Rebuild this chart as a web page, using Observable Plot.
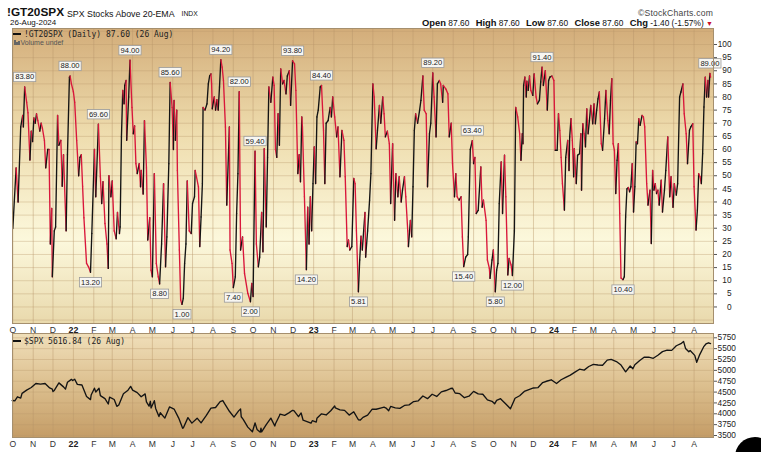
<!DOCTYPE html>
<html><head><meta charset="utf-8">
<script src="https://cdn.jsdelivr.net/npm/d3@7"></script>
<script src="https://cdn.jsdelivr.net/npm/@observablehq/plot@0.6"></script>
<style>
body{margin:0;background:#fff;width:761px;height:452px;overflow:hidden;position:relative;font-family:"Liberation Sans",Arial,sans-serif;color:#111}
.a{position:absolute;white-space:nowrap;line-height:1}
.mono{font-family:"DejaVu Sans Mono",monospace}
#top,#bot{position:absolute;left:0}
#top{top:28px}#bot{top:333px}
.ohlc b{font-size:9.4px;margin-left:4px}
</style></head><body>
<div class="a" style="left:7px;top:7.3px;font-size:11.8px;font-weight:bold">!GT20SPX</div>
<div class="a" style="left:67px;top:9.8px;font-size:8.8px">SPX Stocks Above 20-EMA</div>
<div class="a" style="left:181.5px;top:11.3px;font-size:6.8px">INDX</div>
<div class="a" style="left:10px;top:19.3px;font-size:8px">26-Aug-2024</div>
<div class="a" style="right:48px;top:8.8px;font-size:8.6px;color:#444;letter-spacing:0.2px">©StockCharts.com</div>
<div class="a ohlc" style="right:48px;top:18.4px;font-size:8.4px"><b>Open</b> 87.60 <b>High</b> 87.60 <b>Low</b> 87.60 <b>Close</b> 87.60 <b>Chg</b> -1.40 (-1.57%) <span style="color:#c8102e;font-size:7px">▼</span></div>
<div id="top"></div>
<div id="bot"></div>
<div class="a mono" style="left:13px;top:31.3px;font-size:8px;color:#222;z-index:2"><span style="display:inline-block;width:8px;height:2px;background:#111;vertical-align:2px;margin-right:3px"></span>!GT20SPX (Daily) 87.60 (26 Aug)</div>
<div class="a" style="left:14px;top:39.2px;font-size:7px;color:#555;z-index:2"><span style="display:inline-block;width:1.5px;height:5px;background:#666;margin-right:0.5px"></span><span style="display:inline-block;width:1.5px;height:3px;background:#666;margin-right:0.5px"></span><span style="display:inline-block;width:1.5px;height:4px;background:#666;margin-right:1px"></span>Volume undef</div>
<div class="a mono" style="left:13px;top:337.8px;font-size:8px;color:#222;z-index:2"><span style="display:inline-block;width:8px;height:2px;background:#111;vertical-align:2px;margin-right:3px"></span>$SPX 5616.84 (26 Aug)</div>
<div style="position:absolute;left:735px;top:437px;width:40px;height:40px;border-radius:50%;background:#000"></div>
<script>
// ---------- DATA ----------
// !GT20SPX: day offsets from 2021-10-01 and values
const gtDays = [0,5,8,12,15,16,18,21,23,26,28,30,32,34,36,38,41,43,45,48,50,53,55,57,59,60,63,65,68,70,73,75,77,81,83,86,87,89,92,94,97,100,102,104,106,108,112,115,118,120,124,126,130,133,135,137,140,143,145,146,149,151,154,157,159,162,163,165,167,169,170,172,173,176,178,181,183,185,187,189,192,194,195,198,200,203,205,208,210,212,215,218,221,223,226,229,232,234,237,239,242,244,245,247,249,250,253,255,257,259,261,263,265,268,271,273,276,277,279,282,284,286,288,289,292,295,297,299,301,302,303,306,308,310,312,314,316,318,320,323,325,329,330,333,335,338,340,342,344,346,349,352,357,361,363,365,368,370,373,375,378,380,382,385,387,389,392,395,397,399,401,403,405,407,410,412,415,417,420,422,425,428,430,433,435,437,439,440,443,446,448,450,452,454,456,458,460,462,464,467,469,472,474,476,479,482,484,486,489,492,494,497,500,503,505,508,510,512,515,518,520,522,525,527,529,531,533,535,536,539,542,544,547,549,552,554,557,559,562,564,566,569,572,574,577,580,582,585,587,590,592,595,597,600,601,604,606,608,610,612,615,618,620,623,625,628,630,633,635,638,640,643,645,648,650,653,654,658,661,663,666,668,671,673,675,678,681,683,685,688,691,692,695,698,700,702,704,707,711,713,715,719,721,724,725,728,730,733,735,737,739,742,744,747,749,752,754,757,759,762,764,767,770,772,774,775,776,778,780,781,783,785,787,790,792,795,797,800,802,804,806,809,812,814,816,819,822,824,827,829,831,833,835,838,840,843,845,846,848,850,852,853,856,858,861,863,864,866,868,870,872,874,876,878,881,883,885,887,889,891,894,896,899,901,904,906,908,910,912,914,916,918,920,922,924,927,929,931,933,935,937,939,941,943,945,947,949,951,953,956,958,960,963,965,968,970,972,974,976,978,980,982,985,987,990,992,995,998,1000,1003,1005,1008,1010,1013,1015,1018,1020,1023,1025,1028,1030,1033,1035,1038,1040,1042,1044,1046,1048,1050,1052,1054,1056,1057,1059,1060];
const gtValues = [29.9,53,40,68.6,73,68.6,83.8,78,74,56,67,63,72,70,73.6,71,67,70,68,63.5,53,60,60,24,37.5,11.5,29,30.5,73,61.6,63.5,46,58,29,58,87.6,88,85,82,78,63.5,50,57,58,46,34,16.6,15.3,13.2,28,60,42,69.6,49.6,39.4,47.7,31.8,24,14.7,50,42,48,29,26,36,28,30.5,64.8,82.5,77.4,84.4,86.3,63.5,80,94,76,66,69,54.6,50.8,54.6,45.8,52,43,71,53,25.5,34,14,11.5,50.8,16.6,11.5,8.8,24,47,15.3,26.7,54.6,85.6,76,60,78.7,63.5,75,52,21.7,2.7,1.0,3.3,16.6,24,48,29,28,39.4,42,52,49.6,45.8,23,34.3,47,76,75,77.4,85,88,88.8,85,75.5,80,75,79,75,83.8,94.2,91.4,86.3,68.6,38.8,68.6,21.7,16.6,7.4,11.5,35.6,50.8,82,21.7,26.7,12.8,5.2,2.0,9,4,59.4,24,15.3,19,36,21,60.3,30.5,57,83.8,78,87.6,84.4,60,57,73.6,61.6,90.7,85,86.3,81.2,88,90,76.8,93.8,92.6,82.5,50.8,58,47.7,72.4,68.6,42,14.2,38,24,42,29,47,61,47,72.4,75,83.8,84.4,67.3,47,70,71,76,72.4,80,72.4,64.8,68.6,49.6,67.3,63.5,49.6,23,25.5,21.7,23,49,47,29,5.81,17.9,27,21.7,29,36,19,29,40.7,50.8,85,80,60.3,67.3,76.8,70,80,73.6,64.8,67,62.2,39.4,62.2,33,50.8,42,49.6,40,44.5,49.6,42,29,23,33,26.7,45.8,67.3,73.6,70,75,78.7,88,75,73.6,45.8,66,70,89.2,80,64.8,85,86.3,85,78,84.4,83,81.2,64.8,70,54.6,42,50.8,42,40.7,42,26.7,15.4,19,20,26.7,60,63.4,54.6,57,35.6,36.8,53.4,38,40.7,33,17.9,14.7,10.9,17.9,21.7,5.8,14,16.6,39.4,55.3,35.6,57.8,42,12.2,18.5,16,12.0,29,76,72.4,66,55.9,66,62.2,84.4,87.6,80,86,82.5,88,82.5,80.6,88.8,80,77.4,78.7,85.7,91.4,84.4,90,75,86.3,87.6,88,86.3,59.7,59.7,73.6,67.3,57,47,36.9,57,63.5,52,64.8,71.7,63.5,49.6,60.3,47,57.8,58.4,66,44.5,69.8,66,61,75.5,66,71,76.8,69.8,77.4,69.8,75,79.3,81.9,62.2,59.7,71.7,82.5,71,66,78.7,87,62.2,59.7,43.2,55.9,62.2,35.6,11,10.4,11.5,34.3,45,45.5,43.9,45.8,54.6,36.2,45.8,62.9,62.2,71.7,69.2,73,72.4,68.6,47,38.8,44.5,24.2,52,44.5,47,43.2,44.5,38.8,48.3,36.2,44.5,52,64.8,42,49.6,38,47,42.6,47,80,81.9,85,73.6,66,54.6,67.3,68.6,69.8,45.8,29.3,36.9,50.8,49.6,47,58.4,76.2,87.6,80,86.3,80,89.0,87.6];
// labelled extremes (day offsets)
const peakDays = [18,87,130,178,239,316,344,368,425,469,638,698,804,1059];
const troughDays = [118,223,257,335,361,446,525,685,733,759,927];

// $SPX closes
const spxDates = [
"2021-09-30","2021-10-04","2021-10-08","2021-10-13","2021-10-15","2021-10-22","2021-10-29",
"2021-11-05","2021-11-12","2021-11-19","2021-11-26","2021-11-30",
"2021-12-01","2021-12-03","2021-12-10","2021-12-17","2021-12-20","2021-12-23","2021-12-29","2021-12-31",
"2022-01-03","2022-01-07","2022-01-14","2022-01-21","2022-01-27","2022-01-28",
"2022-02-02","2022-02-04","2022-02-09","2022-02-11","2022-02-18","2022-02-23","2022-02-25",
"2022-03-04","2022-03-08","2022-03-11","2022-03-18","2022-03-25","2022-03-29",
"2022-04-01","2022-04-08","2022-04-14","2022-04-20","2022-04-22","2022-04-26","2022-04-28","2022-04-29",
"2022-05-04","2022-05-06","2022-05-11","2022-05-13","2022-05-20","2022-05-27",
"2022-06-03","2022-06-10","2022-06-16","2022-06-17","2022-06-24","2022-06-30",
"2022-07-08","2022-07-14","2022-07-22","2022-07-29",
"2022-08-05","2022-08-12","2022-08-16","2022-08-19","2022-08-26",
"2022-09-02","2022-09-09","2022-09-12","2022-09-13","2022-09-16","2022-09-23","2022-09-30",
"2022-10-04","2022-10-07","2022-10-12","2022-10-13","2022-10-14","2022-10-21","2022-10-28",
"2022-11-03","2022-11-04","2022-11-10","2022-11-11","2022-11-18","2022-11-25","2022-11-30",
"2022-12-02","2022-12-09","2022-12-13","2022-12-16","2022-12-22","2022-12-28","2022-12-30",
"2023-01-05","2023-01-06","2023-01-13","2023-01-20","2023-01-27",
"2023-02-02","2023-02-03","2023-02-10","2023-02-17","2023-02-24",
"2023-03-03","2023-03-10","2023-03-13","2023-03-17","2023-03-24","2023-03-31",
"2023-04-06","2023-04-14","2023-04-18","2023-04-21","2023-04-25","2023-04-28",
"2023-05-05","2023-05-12","2023-05-19","2023-05-26",
"2023-06-02","2023-06-09","2023-06-16","2023-06-23","2023-06-30",
"2023-07-07","2023-07-14","2023-07-21","2023-07-28","2023-07-31",
"2023-08-04","2023-08-11","2023-08-18","2023-08-25",
"2023-09-01","2023-09-08","2023-09-15","2023-09-22","2023-09-29",
"2023-10-03","2023-10-06","2023-10-12","2023-10-13","2023-10-20","2023-10-27",
"2023-11-03","2023-11-10","2023-11-17","2023-11-24",
"2023-12-01","2023-12-08","2023-12-15","2023-12-22","2023-12-28",
"2024-01-05","2024-01-12","2024-01-19","2024-01-26",
"2024-02-02","2024-02-09","2024-02-16","2024-02-23",
"2024-03-01","2024-03-08","2024-03-15","2024-03-22","2024-03-28",
"2024-04-05","2024-04-12","2024-04-19","2024-04-26","2024-04-30",
"2024-05-03","2024-05-10","2024-05-17","2024-05-24","2024-05-31",
"2024-06-07","2024-06-14","2024-06-21","2024-06-28",
"2024-07-05","2024-07-12","2024-07-16","2024-07-19","2024-07-24","2024-07-26",
"2024-08-02","2024-08-05","2024-08-09","2024-08-16","2024-08-19","2024-08-23","2024-08-26"];
const spxValues = [
4307,4300,4391,4363,4471,4545,4605,
4697,4682,4698,4595,4567,
4513,4538,4712,4620,4568,4725,4793,4766,
4796,4677,4663,4398,4326,4432,
4589,4501,4587,4419,4349,4225,4385,
4329,4171,4204,4463,4543,4632,
4546,4488,4393,4459,4272,4175,4288,4132,
4301,4123,3935,4024,3901,4158,
4109,3901,3667,3675,3912,3785,
3899,3790,3962,4130,
4145,4280,4305,4228,4058,
3924,4067,4110,3932,3873,3693,3586,
3791,3640,3577,3670,3583,3752,3901,
3720,3771,3956,3993,3965,4026,4080,
4072,3934,4019,3852,3822,3783,3840,
3808,3895,3999,3973,4071,
4179,4136,4090,4079,3970,
4046,3862,3855,3917,3971,4109,
4105,4138,4154,4133,4071,4169,
4136,4124,4192,4205,
4282,4299,4410,4348,4450,
4399,4505,4536,4582,4589,
4478,4464,4370,4406,
4516,4457,4450,4320,4288,
4229,4308,4349,4327,4224,4117,
4358,4415,4514,4559,
4595,4604,4719,4755,4783,
4697,4784,4840,4891,
4959,5027,5006,5089,
5137,5124,5117,5235,5254,
5204,5123,4967,5100,5036,
5128,5223,5303,5305,5278,
5347,5432,5465,5460,
5567,5615,5667,5505,5427,5459,
5346,5186,5344,5554,5608,5635,5617];

const monthLetters = ["J","F","M","A","M","J","J","A","S","O","N","D"];
const yearLabels = {2022:"22",2023:"23",2024:"24"};
const gtTicks = [0,5,10,15,20,25,30,35,40,45,50,55,60,65,70,75,80,85,90,95,100];
const spxTicks = [3500,3750,4000,4250,4500,4750,5000,5250,5500,5750];

// ---------- BUILD ----------
const parse = d3.timeParse("%Y-%m-%d");
const gtStart = new Date(2021, 9, 1);
const gt = gtDays.map((d, i) => ({date: d3.timeDay.offset(gtStart, d), value: gtValues[i]}));
const byDay = new Map(gtDays.map((d, i) => [d, gt[i]]));
const segs = d3.pairs(gt).map(([a, b]) => ({a, b, c: b.value >= a.value ? "#141414" : "#d9173b"}));
const peaks = peakDays.map(d => byDay.get(d));
const troughs = troughDays.map(d => byDay.get(d));
const spx = spxDates.map((d, i) => ({date: parse(d), value: spxValues[i]}));

const xDomain = [new Date(2021, 8, 30, 12), new Date(2024, 7, 30, 12)];
const months = d3.timeMonth.range(new Date(2021, 9, 1), xDomain[1]);
const monthsNoJan = months.filter(m => m.getMonth() !== 0);
const jans = months.filter(m => m.getMonth() === 0);
const gridCol = "#b8966a";
const PEAK_FILL = "#212121", TROUGH_FILL = "#222223";

function gradientDefs(id, stops) {
  return () => {
    const defs = d3.create("svg:defs");
    const lg = defs.append("linearGradient").attr("id", id)
      .attr("x1", 0).attr("y1", 0).attr("x2", 0).attr("y2", 1);
    stops.forEach(([o, c]) => lg.append("stop").attr("offset", o).attr("stop-color", c));
    return defs.node();
  };
}

function monthLabelMarks(dy) {
  return [
    Plot.text(monthsNoJan, {x: d => d, text: d => monthLetters[d.getMonth()], frameAnchor: "bottom", dy, fontSize: 8.6, fill: "#333", lineAnchor: "middle"}),
    Plot.text(jans, {x: d => d, text: d => yearLabels[d.getFullYear()], frameAnchor: "bottom", dy, fontSize: 8.8, fontWeight: "bold", fill: "#222", lineAnchor: "middle"})
  ];
}

const common = {width: 761, marginLeft: 12, marginRight: 48, marginTop: 0,
  style: {background: "transparent", fontFamily: "Liberation Sans, Arial, sans-serif", overflow: "visible"},
  color: {type: "identity"}};

const topChart = Plot.plot({
  ...common,
  height: 305, marginBottom: 10,
  x: {type: "time", domain: xDomain, axis: null},
  y: {domain: [-6.3, 106.1], axis: null},
  marks: [
    gradientDefs("gUp", [[0, "#d3ad7a"], [0.35, "#eedcad"], [0.72, "#fcf8dc"], [1, "#e9d9ac"]]),
    Plot.frame({fill: "url(#gUp)"}),
    Plot.ruleY(d3.range(-5, 106, 5), {stroke: gridCol, strokeOpacity: 0.45, strokeWidth: 0.8}),
    Plot.ruleX(months, {stroke: gridCol, strokeOpacity: 0.55, strokeWidth: 0.8}),
    Plot.link(segs, {x1: d => d.a.date, y1: d => d.a.value, x2: d => d.b.date, y2: d => d.b.value,
      stroke: d => d.c, strokeWidth: 1.35, strokeLinecap: "round"}),
    Plot.text(peaks, {x: "date", y: "value", text: d => d.value.toFixed(2), dy: -10, fontSize: 7.6, fill: PEAK_FILL}),
    Plot.text(troughs, {x: "date", y: "value", text: d => d.value.toFixed(2), dy: 10, fontSize: 7.6, fill: TROUGH_FILL}),
    Plot.frame({stroke: "#a58f6e", strokeWidth: 1}),
    Plot.axisY({anchor: "right", ticks: gtTicks, tickSize: 3, tickFormat: () => "", stroke: "#555", label: null}),
    Plot.text(gtTicks, {y: d => d, text: d => String(d), frameAnchor: "right", textAnchor: "end", dx: 18, fontSize: 8.3, fill: "#222"}),
    ...monthLabelMarks(6.5)
  ]
});

const botChart = Plot.plot({
  ...common,
  height: 119, marginBottom: 15,
  x: {type: "time", domain: xDomain, axis: null},
  y: {domain: [3454, 5849], axis: null},
  marks: [
    gradientDefs("gDn", [[0, "#f0dfba"], [0.5, "#dcbf8e"], [1, "#c49c66"]]),
    Plot.frame({fill: "url(#gDn)"}),
    Plot.ruleY(d3.range(3500, 5800, 250), {stroke: gridCol, strokeOpacity: 0.45, strokeWidth: 0.8}),
    Plot.ruleX(months, {stroke: gridCol, strokeOpacity: 0.55, strokeWidth: 0.8}),
    Plot.line(spx, {x: "date", y: "value", stroke: "#141414", strokeWidth: 1.35}),
    Plot.frame({stroke: "#a58f6e", strokeWidth: 1}),
    Plot.axisY({anchor: "right", ticks: spxTicks, tickSize: 3, tickFormat: () => "", stroke: "#555", label: null}),
    Plot.text(spxTicks, {y: d => d, text: d => String(d), frameAnchor: "right", textAnchor: "end", dx: 22.5, fontSize: 8.3, fill: "#222"}),
    ...monthLabelMarks(7)
  ]
});

document.getElementById("top").appendChild(topChart);
document.getElementById("bot").appendChild(botChart);

// speech-bubble boxes behind the extreme labels
const NS = "http://www.w3.org/2000/svg";
function boxLabels(svg, fill, dy) {
  const texts = Array.from(svg.querySelectorAll("text")).filter(t => {
    const own = t.getAttribute("fill");
    const par = t.parentNode && t.parentNode.getAttribute && t.parentNode.getAttribute("fill");
    return (own || par || "").toLowerCase() === fill;
  });
  texts.forEach(t => {
    const b = t.getBBox();
    const tr = t.getAttribute("transform");
    const tx = +(t.getAttribute("x") || 0), ty = +(t.getAttribute("y") || 0);
    const padX = 1.6, padY = 0.2;
    const r = document.createElementNS(NS, "rect");
    r.setAttribute("x", b.x - padX); r.setAttribute("y", b.y - padY);
    r.setAttribute("width", b.width + 2 * padX); r.setAttribute("height", b.height + 2 * padY);
    r.setAttribute("fill", "#f7f6f2"); r.setAttribute("stroke", "#9a9a9a"); r.setAttribute("stroke-width", "0.8");
    const px = tx, py = ty - dy;
    const edge = dy < 0 ? b.y + b.height + padY : b.y - padY;
    const p = document.createElementNS(NS, "path");
    p.setAttribute("d", `M${px - 3.2},${edge}L${px},${py}L${px + 3.2},${edge}`);
    p.setAttribute("fill", "#f7f6f2"); p.setAttribute("stroke", "#9a9a9a"); p.setAttribute("stroke-width", "0.8");
    if (tr) { r.setAttribute("transform", tr); p.setAttribute("transform", tr); }
    t.parentNode.insertBefore(r, t);
    t.parentNode.insertBefore(p, t);
  });
}
boxLabels(topChart, PEAK_FILL, -10);
boxLabels(topChart, TROUGH_FILL, 10);
</script>
</body></html>
